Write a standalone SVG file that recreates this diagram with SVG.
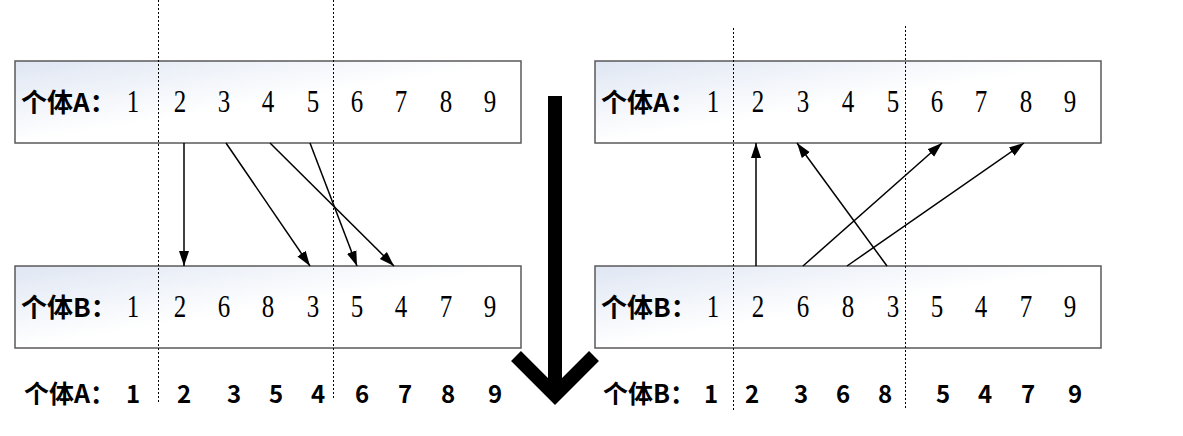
<svg xmlns="http://www.w3.org/2000/svg" width="1183" height="436" viewBox="0 0 1183 436">
<style>
.box{stroke:#5a5a5a;stroke-width:1.5;fill:url(#g)}
.lab{font-family:"Noto Sans CJK SC","Noto Sans",sans-serif;font-weight:bold;font-size:26px;fill:#000}
.d{font-family:"Liberation Serif",serif;font-size:32px;fill:#000;text-anchor:middle}
.bt{font-family:"Noto Sans CJK SC","Noto Sans",sans-serif;font-weight:bold;font-size:25px;fill:#000}
.bd{font-family:"Noto Sans CJK SC","Noto Sans",sans-serif;font-weight:bold;font-size:24px;fill:#000;text-anchor:middle}
.dash{stroke:#000;stroke-width:1.2;stroke-dasharray:2,2;fill:none;shape-rendering:crispEdges}
.c{stroke:#000;stroke-width:1.5;fill:none;marker-end:url(#ah)}
</style>
<defs>
<linearGradient id="g" x1="0" y1="0" x2="1" y2="1">
<stop offset="0" stop-color="#dfe6f3"/>
<stop offset="0.5" stop-color="#ffffff"/>
<stop offset="1" stop-color="#ffffff"/>
</linearGradient>
<marker id="ah" markerUnits="userSpaceOnUse" markerWidth="16" markerHeight="12" refX="15" refY="6" orient="auto">
<path d="M0,1 L15,6 L0,11 z" fill="#000"/>
</marker>
</defs>
<rect width="1183" height="436" fill="#fff"/>

<g id="leftA">
<rect class="box" x="15" y="61" width="506" height="82"/>
<text class="lab" x="21" y="112">个体A：</text>
<text class="d" transform="translate(133,112) scale(0.78,1)">1</text>
<text class="d" transform="translate(180,112) scale(0.78,1)">2</text>
<text class="d" transform="translate(224,112) scale(0.78,1)">3</text>
<text class="d" transform="translate(268,112) scale(0.78,1)">4</text>
<text class="d" transform="translate(313,112) scale(0.78,1)">5</text>
<text class="d" transform="translate(357,112) scale(0.78,1)">6</text>
<text class="d" transform="translate(401,112) scale(0.78,1)">7</text>
<text class="d" transform="translate(446,112) scale(0.78,1)">8</text>
<text class="d" transform="translate(490,112) scale(0.78,1)">9</text>
</g>

<g id="leftB">
<rect class="box" x="15" y="266" width="506" height="82"/>
<text class="lab" x="21" y="317">个体B：</text>
<text class="d" transform="translate(133,317) scale(0.78,1)">1</text>
<text class="d" transform="translate(180,317) scale(0.78,1)">2</text>
<text class="d" transform="translate(224,317) scale(0.78,1)">6</text>
<text class="d" transform="translate(268,317) scale(0.78,1)">8</text>
<text class="d" transform="translate(313,317) scale(0.78,1)">3</text>
<text class="d" transform="translate(357,317) scale(0.78,1)">5</text>
<text class="d" transform="translate(401,317) scale(0.78,1)">4</text>
<text class="d" transform="translate(446,317) scale(0.78,1)">7</text>
<text class="d" transform="translate(490,317) scale(0.78,1)">9</text>
</g>

<g id="rightA">
<rect class="box" x="595" y="61" width="506" height="82"/>
<text class="lab" x="601" y="112">个体A：</text>
<text class="d" transform="translate(713,112) scale(0.78,1)">1</text>
<text class="d" transform="translate(758,112) scale(0.78,1)">2</text>
<text class="d" transform="translate(803,112) scale(0.78,1)">3</text>
<text class="d" transform="translate(848,112) scale(0.78,1)">4</text>
<text class="d" transform="translate(893,112) scale(0.78,1)">5</text>
<text class="d" transform="translate(937,112) scale(0.78,1)">6</text>
<text class="d" transform="translate(981,112) scale(0.78,1)">7</text>
<text class="d" transform="translate(1026,112) scale(0.78,1)">8</text>
<text class="d" transform="translate(1070,112) scale(0.78,1)">9</text>
</g>

<g id="rightB">
<rect class="box" x="595" y="266" width="506" height="82"/>
<text class="lab" x="601" y="317">个体B：</text>
<text class="d" transform="translate(713,317) scale(0.78,1)">1</text>
<text class="d" transform="translate(758,317) scale(0.78,1)">2</text>
<text class="d" transform="translate(803,317) scale(0.78,1)">6</text>
<text class="d" transform="translate(848,317) scale(0.78,1)">8</text>
<text class="d" transform="translate(893,317) scale(0.78,1)">3</text>
<text class="d" transform="translate(937,317) scale(0.78,1)">5</text>
<text class="d" transform="translate(981,317) scale(0.78,1)">4</text>
<text class="d" transform="translate(1026,317) scale(0.78,1)">7</text>
<text class="d" transform="translate(1070,317) scale(0.78,1)">9</text>
</g>

<g id="resultA">
<text class="bt" x="24" y="403">个体A：</text>
<text class="bd" x="133" y="403">1</text>
<text class="bd" x="184" y="403">2</text>
<text class="bd" x="234" y="403">3</text>
<text class="bd" x="276" y="403">5</text>
<text class="bd" x="318" y="403">4</text>
<text class="bd" x="362" y="403">6</text>
<text class="bd" x="405" y="403">7</text>
<text class="bd" x="448" y="403">8</text>
<text class="bd" x="495" y="403">9</text>
</g>

<g id="resultB">
<text class="bt" x="603" y="403">个体B：</text>
<text class="bd" x="711" y="403">1</text>
<text class="bd" x="752" y="403">2</text>
<text class="bd" x="801" y="403">3</text>
<text class="bd" x="843" y="403">6</text>
<text class="bd" x="885" y="403">8</text>
<text class="bd" x="943" y="403">5</text>
<text class="bd" x="985" y="403">4</text>
<text class="bd" x="1028" y="403">7</text>
<text class="bd" x="1075" y="403">9</text>
</g>

<g id="dividers">
<line class="dash" x1="158.5" y1="0" x2="158.5" y2="402"/>
<line class="dash" x1="333.5" y1="0" x2="333.5" y2="400"/>
<line class="dash" x1="733.5" y1="28" x2="733.5" y2="412"/>
<line class="dash" x1="905.5" y1="26" x2="905.5" y2="410"/>
</g>

<g id="connectors">
<line class="c" x1="184" y1="143" x2="184" y2="266"/>
<line class="c" x1="226" y1="143" x2="310" y2="266"/>
<line class="c" x1="270" y1="143" x2="394" y2="266"/>
<line class="c" x1="310" y1="143" x2="357" y2="266"/>
<line class="c" x1="756" y1="266" x2="756" y2="143"/>
<line class="c" x1="887" y1="266" x2="797" y2="143"/>
<line class="c" x1="803" y1="266" x2="942" y2="143"/>
<line class="c" x1="847" y1="266" x2="1024" y2="143"/>
</g>

<g id="bigArrow">
<line x1="555" y1="96" x2="555" y2="392" stroke="#000" stroke-width="14"/>
<polyline points="516,356 555,395 594,356" fill="none" stroke="#000" stroke-width="14" stroke-linejoin="miter"/>
</g>
</svg>
